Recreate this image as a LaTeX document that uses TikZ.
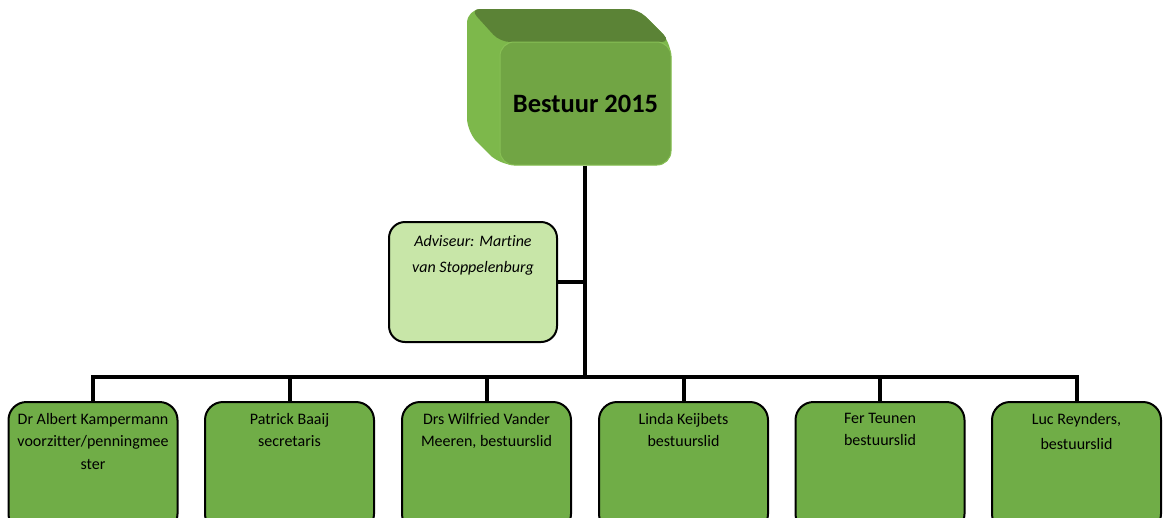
\documentclass[tikz,border=0pt]{standalone}
\usepackage{fontspec}
\setmainfont[Ligatures=NoCommon]{Carlito}
\usetikzlibrary{calc}
\definecolor{boxgreen}{HTML}{70AD47}
\definecolor{advgreen}{HTML}{C8E6A8}
\definecolor{frontgreen}{HTML}{71A544}
\definecolor{topgreen}{HTML}{5B8336}
\definecolor{sidegreen}{HTML}{7DB84B}
\definecolor{rimgreen}{HTML}{88C055}
\tikzset{
  member/.style={draw=black, line width=2pt, fill=boxgreen, rounded corners=18pt,
    minimum width=169pt, minimum height=130pt, anchor=north, inner sep=0pt},
  advbox/.style={draw=black, line width=2pt, fill=advgreen, rounded corners=16pt,
    minimum width=168pt, minimum height=120pt, inner sep=0pt},
  topface/.style={fill=frontgreen, draw=rimgreen, line width=1pt, rounded corners=14pt,
    minimum width=171pt, minimum height=123pt, inner sep=0pt,
    font=\fontsize{26.5}{30}\selectfont\bfseries},
  txt/.style={anchor=north, inner sep=0pt, align=center,
    font=\fontsize{16}{22.5}\selectfont},
  advtxt/.style={anchor=north, inner sep=0pt, align=center,
    font=\fontsize{16}{26}\selectfont\itshape},
  conn/.style={line width=4pt, draw=black}
}
\begin{document}
\begin{tikzpicture}[x=1pt,y=-1pt]
\useasboundingbox (0,0) rectangle (1164,517);
\fill[white] (0,0) rectangle (1164,517);
\clip (0,0) rectangle (1164,517);
% 3D top box
\fill[sidegreen, rounded corners=14pt] (467,9) -- (638,9) -- (671,42) -- (671,165) -- (500,165) -- (467,132) -- cycle;
\fill[topgreen, rounded corners=10pt] (470,9) -- (638,9) -- (671,42) -- (500,42) -- cycle;
\node[topface] (top) at (585.5,103.5) {Bestuur 2015};
% adviser
\node[advbox] (adv) at (473,282) {};
\node[advtxt] (advt) at (473,235) {Adviseur: Martine\\van Stoppelenburg};
% members
\node[member] (b1) at (93,401) {};
\node[member] (b2) at (289.5,401) {};
\node[member] (b3) at (486.5,401) {};
\node[member] (b4) at (683.5,401) {};
\node[member] (b5) at (880,401) {};
\node[member] (b6) at (1076.5,401) {};
\node[txt] (t1) at (93,413) {Dr Albert Kampermann\\voorzitter/penningmee\\ster};
\node[txt] (t2) at (289.5,413) {Patrick Baaij\\secretaris};
\node[txt] (t3) at (486.5,413) {Drs Wilfried Vander\\Meeren, bestuurslid};
\node[txt] (t4) at (683.5,413) {Linda Keijbets\\bestuurslid};
\node[txt] (t5) at (880,413) {Fer Teunen\\bestuurslid};
\node[txt, font=\fontsize{16}{25}\selectfont] (t6) at (1076.5,413) {Luc Reynders,\\bestuurslid};
% connectors
\coordinate (bus) at (585,377);
\draw[conn] (top.south -| bus) -- (bus);
\draw[conn] (adv.east) -- (adv.east -| bus);
\draw[conn, line cap=rect] (b1.north |- bus) -- (b6.north |- bus);
\foreach \b in {b1,b2,b3,b4,b5,b6}{
  \draw[conn] (\b.north |- bus) -- (\b.north);
}
\end{tikzpicture}
\end{document}
